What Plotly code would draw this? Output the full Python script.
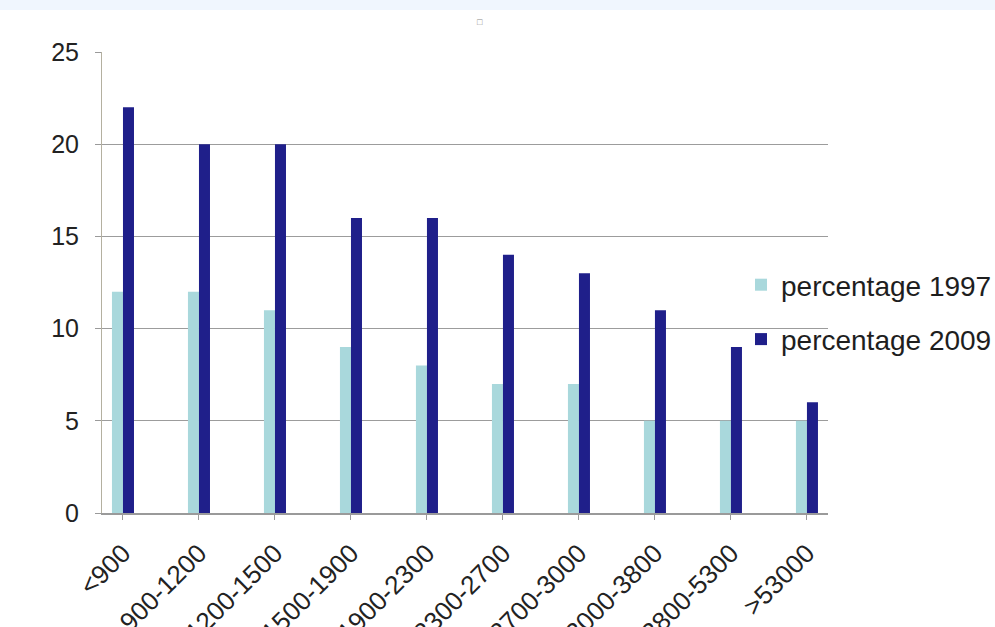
import plotly.graph_objects as go

categories = ["<900", "900-1200", "1200-1500", "1500-1900", "1900-2300",
              "2300-2700", "2700-3000", "3000-3800", "3800-5300", ">53000"]
pct_1997 = [12, 12, 11, 9, 8, 7, 7, 5, 5, 5]
pct_2009 = [22, 20, 20, 16, 16, 14, 13, 11, 9, 6]
y_ticks = [0, 5, 10, 15, 20, 25]

W, H = 995, 627
L, R, T, B = 102, 828, 52, 513

def py(p):
    return (B - p) / (B - T)

fig = go.Figure()
fig.add_trace(go.Bar(x=categories, y=pct_1997, name="percentage 1997",
                     marker=dict(color="#A9D8DC", line=dict(width=0)),
                     legendgroup="a"))
fig.add_trace(go.Bar(x=categories, y=pct_2009, name="percentage 2009",
                     marker=dict(color="#1F1F8A", line=dict(width=0)),
                     legendgroup="b"))

fig.update_layout(
    width=W, height=H,
    margin=dict(l=L, r=W - R, t=T, b=H - B, pad=0, autoexpand=False),
    paper_bgcolor="white", plot_bgcolor="white",
    barmode="group", bargap=0.71, bargroupgap=0,
    font=dict(family="Liberation Sans, Arial, sans-serif", color="#222222", size=25),
    showlegend=True,
    legend=dict(x=(741 - L) / (R - L), xanchor="left", y=py(260), yanchor="top",
                font=dict(size=28, color="#1e1e1e"), tracegroupgap=15,
                traceorder="grouped", itemwidth=30, bgcolor="rgba(0,0,0,0)"),
    xaxis=dict(type="category", range=[-0.276, 9.277], tickangle=-45,
               automargin=False,
               showline=True, linecolor="#9a9a9a", linewidth=1.5,
               ticks="outside", ticklen=5, tickcolor="#9a9a9a",
               ticklabelstandoff=8,
               showgrid=False, tickfont=dict(size=26, color="#222222")),
    yaxis=dict(range=[0, 25], tickvals=y_ticks, showline=True, automargin=False,
               linecolor="#b4b0a0", linewidth=1, ticks="outside", ticklen=6,
               tickcolor="#9a9a9a", showgrid=True, gridcolor="#9c9c9c",
               gridwidth=1.2, zeroline=False, ticklabelstandoff=11,
               tickfont=dict(size=25, color="#222222")),
)

# top light banner
fig.add_shape(type="rect", xref="paper", yref="paper",
              x0=-L / (R - L), x1=(W - L) / (R - L), y0=py(10), y1=py(0),
              fillcolor="#F0F6FE", line=dict(width=0), layer="below")
# small placeholder mark near the top
fig.add_annotation(x=(480 - L) / (R - L), y=py(15), xref="paper", yref="paper",
                   text="□", showarrow=False, font=dict(size=9, color="#888888"))

fig.write_html("out.html")
